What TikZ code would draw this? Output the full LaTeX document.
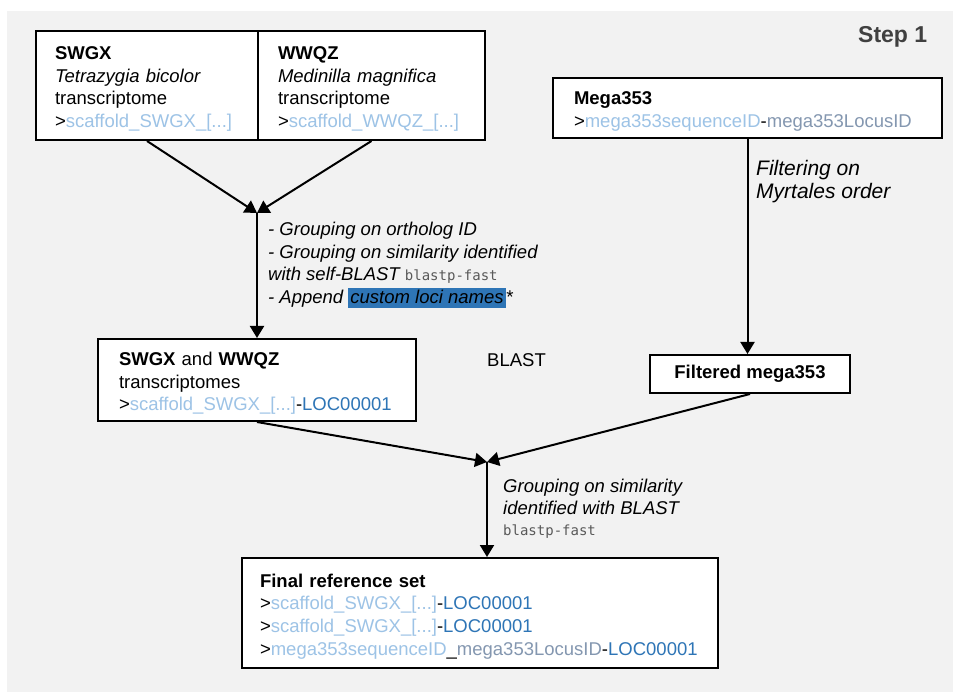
\documentclass[tikz,border=0pt]{standalone}
\usepackage{fontspec}
\setmainfont{Liberation Sans}
\setmonofont{DejaVu Sans Mono}
\usetikzlibrary{arrows.meta}

\definecolor{bgGray}{HTML}{F2F2F2}
\definecolor{lightBlue}{HTML}{9DC3E6}
\definecolor{darkBlue}{HTML}{2E75B6}
\definecolor{grayBlue}{HTML}{8497B0}
\definecolor{stepGray}{HTML}{404040}
\definecolor{codeGray}{HTML}{595959}

\newcommand{\scaf}[1]{\textcolor{lightBlue}{#1}}
\newcommand{\loc}[1]{\textcolor{darkBlue}{#1}}
\newcommand{\locus}[1]{\textcolor{grayBlue}{#1}}
\newcommand{\blastcmd}{{\upshape\ttfamily\fontsize{14}{17}\selectfont\color{codeGray}blastp-fast}}
\newcommand{\firstln}{\rule{0pt}{20pt}}
\exhyphenpenalty = 10000
\hyphenpenalty = 10000

\tikzstyle{box} = [rectangle, draw = black, line width = 2pt, fill = white, align = left, inner xsep = 20pt, inner ysep = 0pt]
\tikzstyle{arrow} = [line width = 2pt, -{Triangle[length = 12pt, width = 14pt]}]
\tikzstyle{note} = [inner sep = 0pt, align = left, anchor = north west]

\begin{document}
\begin{tikzpicture}[x = 1pt, y = -1pt, font = \fontsize{18.5}{22.7}\selectfont]
    \useasboundingbox (0,0) rectangle (953,692);
    \fill[bgGray] (7,11) rectangle (953,692);

    \node(step)[anchor = base west, inner sep = 0pt, text = stepGray, font = \fontsize{23}{26}\selectfont\bfseries] at (858,43) {Step 1};

    \node(swgx)[box, inner xsep = 19pt, text width = 184pt, minimum height = 109pt] at (147,85.5) {\firstln\textbf{SWGX}\\\textit{Tetrazygia bicolor}\\transcriptome\\>\scaf{scaffold\_SWGX\_[...]}};
    \node(wwqz)[box, text width = 187pt, minimum height = 109pt] at (371.5,85.5) {\firstln\textbf{WWQZ}\\\textit{Medinilla magnifica}\\transcriptome\\>\scaf{scaffold\_WWQZ\_[...]}};
    \node(mega)[box, inner xsep = 21pt, text width = 347pt, minimum height = 60pt] at (747.5,108) {\firstln\textbf{Mega353}\\>\scaf{mega353sequenceID}-\locus{mega353LocusID}};

    \node(both)[box, inner xsep = 21pt, text width = 276pt, minimum height = 82pt] at (257,380) {\firstln\textbf{SWGX} and \textbf{WWQZ}\\transcriptomes\\>\scaf{scaffold\_SWGX\_[...]}-\loc{LOC00001}};
    \node(filt)[box, align = center, minimum width = 200pt, minimum height = 38pt] at (750,374) {\textbf{Filtered mega353}};
    \node(final)[box, text width = 440pt, inner xsep = 18pt, minimum height = 110pt] at (480,613) {\firstln\textbf{Final reference set}\\>\scaf{scaffold\_SWGX\_[...]}-\loc{LOC00001}\\>\scaf{scaffold\_SWGX\_[...]}-\loc{LOC00001}\\>\scaf{mega353sequenceID}\_\locus{mega353LocusID}-\loc{LOC00001}};

    \node(blast)[anchor = base west, inner sep = 0pt] at (487,367) {BLAST};

    % labels on the arrows
    \node(grp1)[note, font = \fontsize{18.5}{22.5}\selectfont\itshape] at (268,222) {- Grouping on ortholog ID\\- Grouping on similarity identified\\with self-BLAST \blastcmd\\- Append {\setlength{\fboxsep}{2pt}\colorbox{darkBlue}{\rule[-3pt]{0pt}{12pt}custom loci names}}*};
    \node(filtlbl)[note, font = \fontsize{21}{23}\selectfont\itshape] at (756,160) {Filtering on\\Myrtales order};
    \node(grp2)[note, font = \fontsize{18.5}{21.5}\selectfont\itshape] at (503,479) {Grouping on similarity\\identified with BLAST\\\blastcmd};

    \coordinate(j1) at (257,213);
    \coordinate(j2) at (487,462);

    \draw[arrow](swgx.south)--(j1);
    \draw[arrow](wwqz.south)--(j1);
    \draw[arrow](j1)--(both.north);
    \draw[arrow](mega.south)--(mega.south |- filt.north);
    \draw[arrow](both.south)--(j2);
    \draw[arrow](filt.south)--(j2);
    \draw[arrow](j2)--(j2 |- final.north);
\end{tikzpicture}
\end{document}
